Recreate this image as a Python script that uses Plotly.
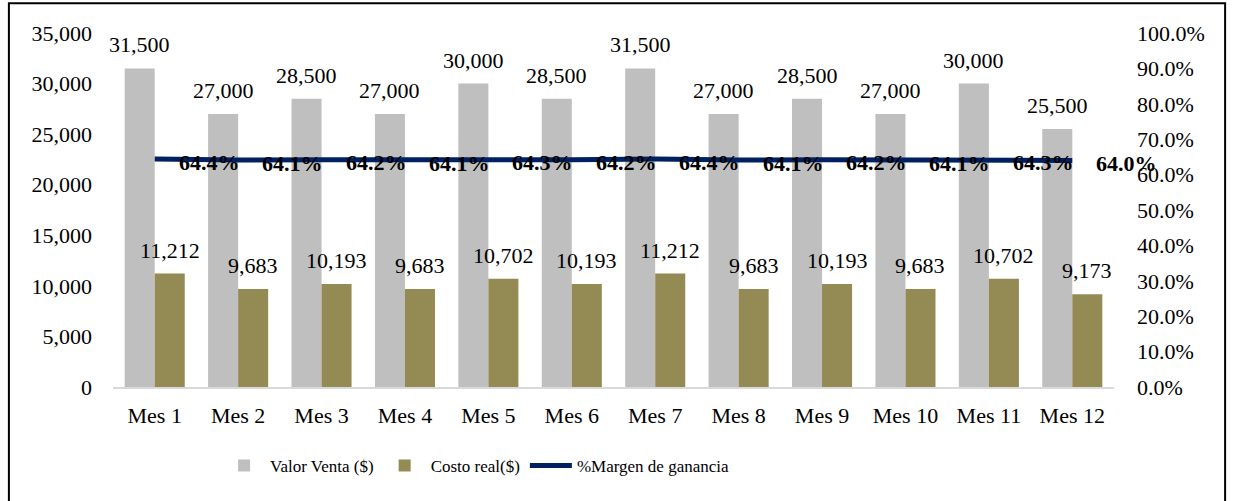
import plotly.graph_objects as go

# datos
meses = ["Mes 1", "Mes 2", "Mes 3", "Mes 4", "Mes 5", "Mes 6",
         "Mes 7", "Mes 8", "Mes 9", "Mes 10", "Mes 11", "Mes 12"]
valor_venta = [31500, 27000, 28500, 27000, 30000, 28500,
               31500, 27000, 28500, 27000, 30000, 25500]
costo_real = [11212, 9683, 10193, 9683, 10702, 10193,
              11212, 9683, 10193, 9683, 10702, 9173]
margen = [0.644, 0.641, 0.642, 0.641, 0.643, 0.642,
          0.644, 0.641, 0.642, 0.641, 0.643, 0.640]

FONT = "Liberation Serif, Times New Roman, serif"

fig = go.Figure()

fig.add_trace(go.Bar(x=meses, y=valor_venta, name="Valor Venta ($)",
                     marker_color="#BFBFBF", marker_line_width=0))
fig.add_trace(go.Bar(x=meses, y=costo_real, name="Costo real($)",
                     marker_color="#948A54", marker_line_width=0))
fig.add_trace(go.Scatter(x=meses, y=margen, name="%Margen de ganancia",
                         mode="lines", yaxis="y2",
                         line=dict(color="#002060", width=5)))

# etiquetas de las barras (una barra a cada lado del centro de la categoria)
for m, v, c in zip(meses, valor_venta, costo_real):
    fig.add_annotation(x=m, y=v, text=f"{v:,}", showarrow=False,
                       yanchor="bottom", xshift=-15, yshift=9,
                       font=dict(family=FONT, size=22, color="black"))
    fig.add_annotation(x=m, y=c, text=f"{c:,}", showarrow=False,
                       yanchor="bottom", xshift=15, yshift=9,
                       font=dict(family=FONT, size=22, color="black"))

# etiquetas del margen, a la derecha de cada punto
for m, v in zip(meses, margen):
    fig.add_annotation(x=m, y=v, yref="y2", text=f"<b>{v:.1%}</b>",
                       showarrow=False, xanchor="left", xshift=22, yshift=-3,
                       font=dict(family=FONT, size=22, color="black"))

# borde del grafico
fig.add_shape(type="rect", xref="paper", yref="paper",
              x0=-0.104, x1=1.111, y0=-0.34, y1=1.084,
              line=dict(color="black", width=2))

fig.update_layout(
    width=1234, height=501,
    margin=dict(l=113, r=120, t=33, b=114),
    paper_bgcolor="white", plot_bgcolor="white",
    font=dict(family=FONT, size=22, color="black"),
    barmode="group", bargap=0.28, bargroupgap=0,
    showlegend=True,
    legend=dict(orientation="h", x=0.105, y=-0.223, yanchor="middle",
                xanchor="left", itemwidth=42,
                font=dict(family=FONT, size=17)),
    xaxis=dict(range=[-0.5, 11.5], showline=True, linecolor="#D9D9D9",
               linewidth=1.5, showgrid=False, ticks="", ticklabelstandoff=8,
               automargin=False),
    yaxis=dict(range=[0, 35000], dtick=5000, tickformat=",d",
               showgrid=False, zeroline=False, showline=False,
               ticklabelstandoff=20, automargin=False),
    yaxis2=dict(range=[0, 1], dtick=0.1, tickformat=".1%", overlaying="y",
                side="right", showgrid=False, zeroline=False, showline=False,
                ticklabelstandoff=22, automargin=False),
)

# sin margen del body, para que el grafico ocupe la ventana entera
fig.write_html("out.html", config={"displayModeBar": False},
               post_script="document.body.style.margin='0px';")
